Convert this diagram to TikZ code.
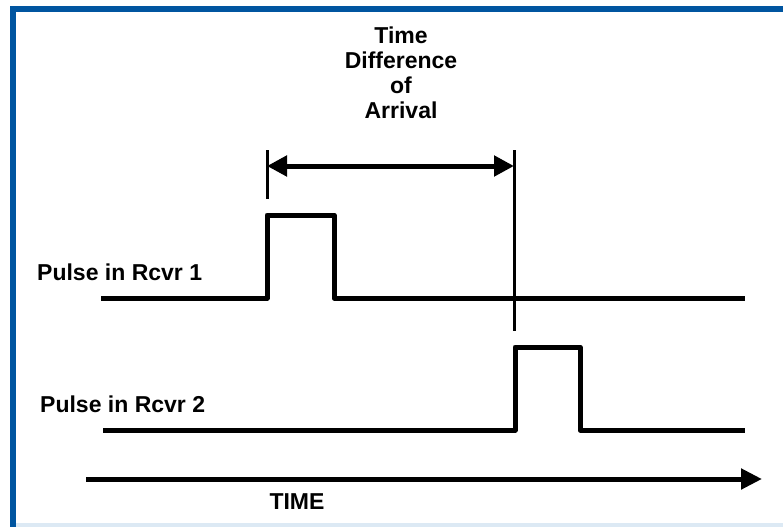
\documentclass[tikz,border=0pt]{standalone}
\usepackage{fontspec}
\setmainfont{Liberation Sans}
\usetikzlibrary{arrows.meta}
\definecolor{frameblue}{HTML}{0055A0}
\definecolor{framelight}{HTML}{DCE9F4}
\tikzset{
  lab/.style={font=\bfseries\fontsize{23}{25}\selectfont, inner sep=0pt},
  wave/.style={line width=5pt, line join=round, line cap=butt},
  thin/.style={line width=3pt},
  dimtip/.style={-{Triangle[length=20pt,width=20pt]}},
}
\begin{document}
\begin{tikzpicture}[x=1pt,y=-1pt]
\useasboundingbox (0,0) rectangle (783,527);
% frame
\fill[white] (0,0) rectangle (783,527);
\fill[framelight] (16,523) rectangle (783,527);
\fill[frameblue] (10,6) rectangle (783,12);
\fill[frameblue] (10,6) rectangle (16,527);
% title
\node[lab, align=center, anchor=north] (title) at (401,27) {Time\\Difference\\of\\Arrival};
% labels
\node[lab, anchor=base west] (r1) at (37,280) {Pulse in Rcvr 1};
\node[lab, anchor=base west] (r2) at (40,412) {Pulse in Rcvr 2};
\node[lab, anchor=base] (time) at (297,509) {TIME};
% coordinates
\coordinate (a1) at (101,298);
\coordinate (a2) at (267,298);
\coordinate (a3) at (267,215);
\coordinate (a4) at (334,215);
\coordinate (a5) at (334,298);
\coordinate (a6) at (745,298);
\coordinate (b1) at (103,430);
\coordinate (b2) at (515,430);
\coordinate (b3) at (515,347);
\coordinate (b4) at (580,347);
\coordinate (b5) at (580,430);
\coordinate (b6) at (745,430);
\coordinate (t1) at (86,479);
\coordinate (t2) at (762,479);
\coordinate (k1) at (267,150);
\coordinate (k2) at (267,199);
\coordinate (v1) at (514,150);
\coordinate (v2) at (514,331);
\coordinate (m) at (390,166);
\coordinate (d1) at (267,166);
\coordinate (d2) at (514,166);
% waveforms
\draw[wave] (a1) -- (a2) -- (a3) -- (a4) -- (a5) -- (a6);
\draw[wave] (b1) -- (b2) -- (b3) -- (b4) -- (b5) -- (b6);
% time axis
\draw[line width=5pt, -{Triangle[length=21pt,width=20pt]}] (t1) -- (t2);
% ticks
\draw[thin] (k1) -- (k2);
\draw[thin] (v1) -- (v2);
% dimension arrow
\draw[line width=5pt, dimtip] (m) -- (d1);
\draw[line width=5pt, dimtip] (m) -- (d2);
\end{tikzpicture}
\end{document}
